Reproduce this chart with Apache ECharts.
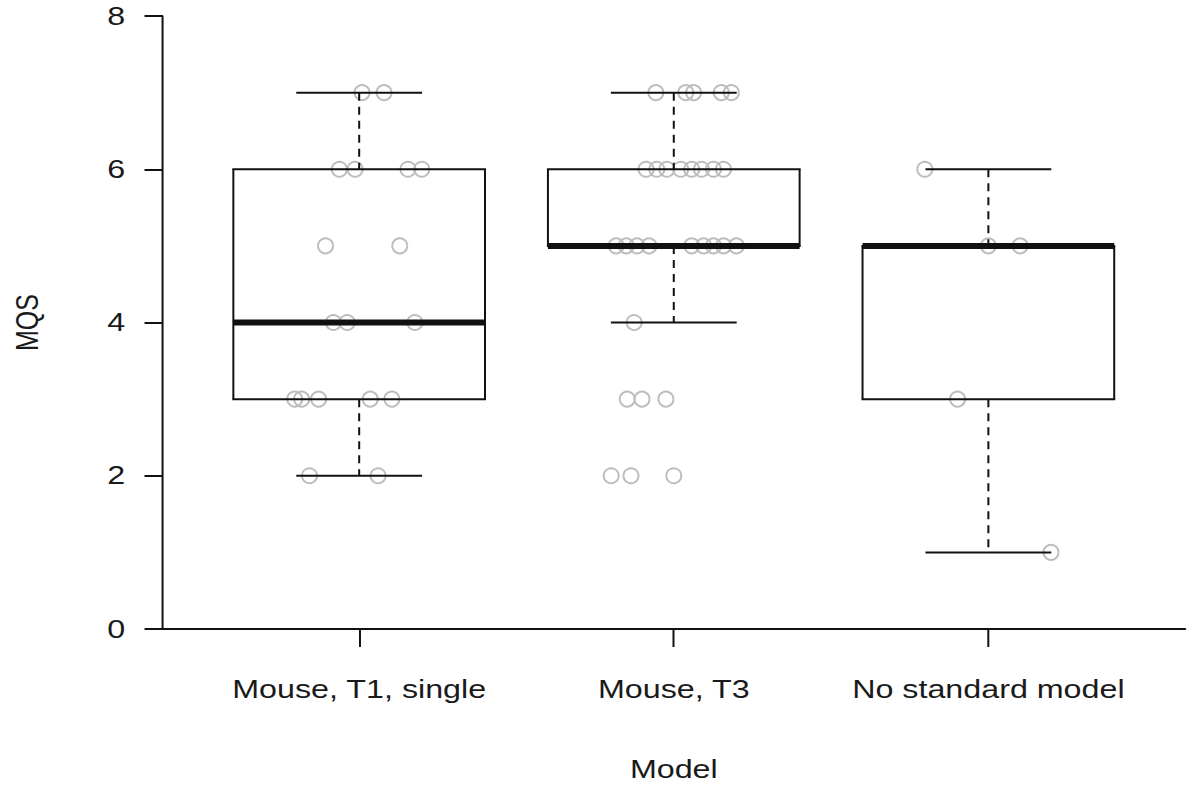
<!DOCTYPE html>
<html>
<head>
<meta charset="utf-8">
<script src="https://cdn.jsdelivr.net/npm/echarts@6/dist/echarts.min.js"></script>
<style>
  html, body { margin: 0; padding: 0; background: #fff; overflow: hidden; }
  #wrap { position: absolute; left: 0; top: 0; width: 1187px; height: 787px; overflow: hidden; }
  #chart { position: absolute; left: 0; top: 0; height: 787px; transform-origin: 0 0; }
</style>
</head>
<body>
<div id="wrap"><div id="chart"></div></div>
<script>
// Groups on the x axis (positions 1, 2, 3)
const categories = ['Mouse, T1, single', 'Mouse, T3', 'No standard model'];
const yTicks = [0, 2, 4, 6, 8];

// Box summaries: [lower whisker, Q1, median, Q3, upper whisker]
const statsT1 = [2, 3, 4, 6, 7];
const statsT3 = [4, 5, 5, 6, 7];
const statsNone = [1, 3, 5, 5, 6];

// Individual MQS scores and their horizontal jitter (offset from the group position)
const scoresT1 = [7, 7, 6, 6, 6, 6, 5, 5, 4, 4, 4, 3, 3, 3, 3, 3, 2, 2];
const jitterT1 = [0.009, 0.079, -0.063, -0.013, 0.155, 0.199, -0.107, 0.129, -0.082, -0.038, 0.177,
                  -0.205, -0.183, -0.129, 0.035, 0.104, -0.158, 0.060];
const scoresT3 = [7, 7, 7, 7, 7, 6, 6, 6, 6, 6, 6, 6, 6, 5, 5, 5, 5, 5, 5, 5, 5, 5, 4, 3, 3, 3, 2, 2, 2];
const jitterT3 = [-0.057, 0.038, 0.063, 0.151, 0.183,
                  -0.088, -0.054, -0.022, 0.022, 0.057, 0.088, 0.126, 0.158,
                  -0.183, -0.151, -0.117, -0.079, 0.057, 0.095, 0.126, 0.158, 0.199,
                  -0.126, -0.148, -0.101, -0.025, -0.199, -0.136, 0.000];
const scoresNone = [6, 5, 5, 3, 1];
const jitterNone = [-0.202, 0.000, 0.101, -0.098, 0.199];

// The drawing is laid out narrow (W px) and widened horizontally by SX
const W = 920;
const SX = 1187 / W;
const el = document.getElementById('chart');
el.style.width = W + 'px';
el.style.transform = 'scaleX(' + SX + ')';

const FONT = 'Liberation Sans, Arial, sans-serif';
const FS = 25;
const INK = '#111';
const TXT = '#1a1a1a';

const boxData = [statsT1, statsT3, statsNone].map((s, i) => [i + 1].concat(s));
const pointData = [];
[[scoresT1, jitterT1], [scoresT3, jitterT3], [scoresNone, jitterNone]].forEach(([sc, jt], i) => {
  sc.forEach((v, k) => pointData.push([i + 1 + jt[k], v]));
});

const BOX_HALF = 0.4, CAP_HALF = 0.2;
const HW = 2;          // horizontal stroke width
const VW = 2 / SX;     // vertical stroke width (compensates for widening)

function renderBox(params, api) {
  const x = api.value(0);
  const lo = api.value(1), q1 = api.value(2), md = api.value(3), q3 = api.value(4), hi = api.value(5);
  const x0 = api.coord([x - BOX_HALF, q3])[0];
  const x1 = api.coord([x + BOX_HALF, q1])[0];
  const cL = api.coord([x - CAP_HALF, hi])[0];
  const cR = api.coord([x + CAP_HALF, hi])[0];
  const cx = api.coord([x, md])[0];
  const yLo = api.coord([x, lo])[1], yQ1 = api.coord([x, q1])[1], yMd = api.coord([x, md])[1];
  const yQ3 = api.coord([x, q3])[1], yHi = api.coord([x, hi])[1];
  const line = (xa, ya, xb, yb, w, dash) => ({
    type: 'line',
    shape: { x1: xa, y1: ya, x2: xb, y2: yb },
    style: { stroke: INK, lineWidth: w, lineDash: dash || null, lineCap: 'butt' }
  });
  return {
    type: 'group',
    children: [
      // whiskers
      line(cx, yHi, cx, yQ3, VW, [8, 6]),
      line(cx, yQ1, cx, yLo, VW, [8, 6]),
      line(cL, yHi, cR, yHi, HW),
      line(cL, yLo, cR, yLo, HW),
      // box
      line(x0 - VW / 2, yQ3, x1 + VW / 2, yQ3, HW),
      line(x0 - VW / 2, yQ1, x1 + VW / 2, yQ1, HW),
      line(x0, yQ3, x0, yQ1, VW),
      line(x1, yQ3, x1, yQ1, VW),
      // median
      line(x0, yMd, x1, yMd, 6)
    ]
  };
}

const chart = echarts.init(el, null, { renderer: 'svg', width: W, height: 787 });
chart.setOption({
  animation: false,
  backgroundColor: '#fff',
  grid: { left: 155 / SX, right: W - 1185 / SX, top: 16, bottom: 787 - 631, containLabel: false },
  xAxis: {
    type: 'value',
    min: 0.375,
    max: 3.625,
    name: 'Model',
    nameLocation: 'middle',
    nameGap: 128,
    nameTextStyle: { fontFamily: FONT, fontSize: FS, color: TXT },
    axisLine: { show: true, lineStyle: { color: INK, width: 2 } },
    axisTick: { show: true, length: 18, customValues: [1, 2, 3], lineStyle: { color: INK, width: 2 / SX } },
    axisLabel: {
      customValues: [1, 2, 3],
      margin: 48,
      fontFamily: FONT, fontSize: FS, color: TXT,
      formatter: v => categories[Math.round(v) - 1] || ''
    },
    splitLine: { show: false }
  },
  yAxis: {
    type: 'value',
    min: yTicks[0],
    max: yTicks[yTicks.length - 1],
    interval: 2,
    name: 'MQS',
    nameLocation: 'middle',
    nameGap: 93,
    nameRotate: 90,
    nameTextStyle: { fontFamily: FONT, fontSize: FS, color: TXT },
    axisLine: { show: true, lineStyle: { color: INK, width: 2 / SX } },
    axisTick: { show: true, length: 14, lineStyle: { color: INK, width: 2 } },
    axisLabel: { margin: 29, fontFamily: FONT, fontSize: FS, color: TXT },
    splitLine: { show: false }
  },
  series: [
    {
      type: 'scatter',
      z: 2,
      data: pointData,
      symbol: 'circle',
      symbolSize: [15 / SX, 15],
      itemStyle: { color: 'rgba(0,0,0,0)', borderColor: '#bdbdbd', borderWidth: 1.7, opacity: 1 },
      emphasis: { disabled: true }
    },
    {
      type: 'custom',
      z: 3,
      renderItem: renderBox,
      data: boxData,
      encode: { x: 0, y: [1, 2, 3, 4, 5] }
    }
  ]
});
</script>
</body>
</html>
